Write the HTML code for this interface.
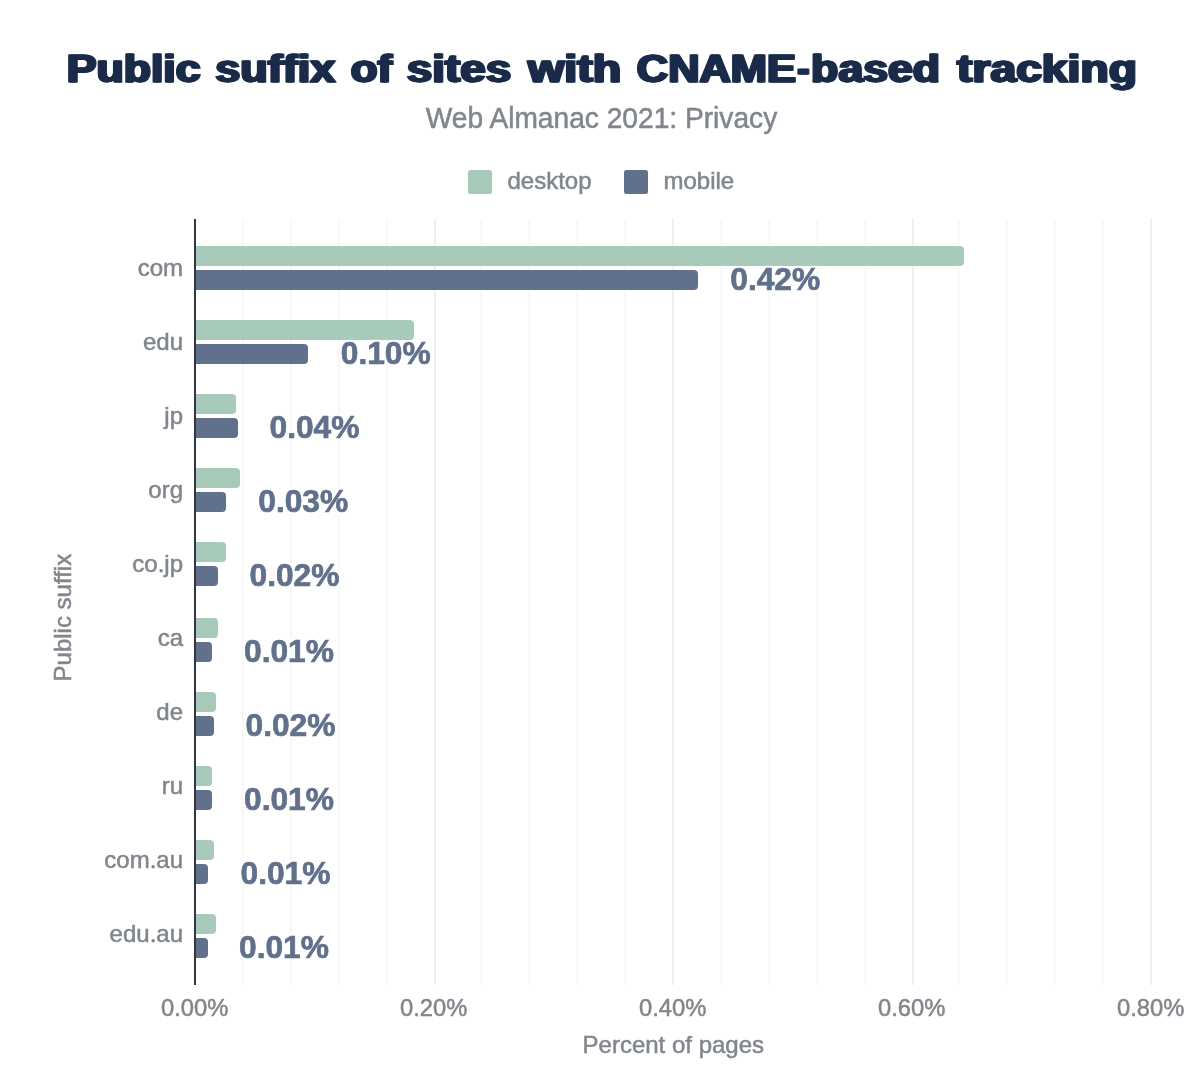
<!DOCTYPE html>
<html lang="en"><head><meta charset="utf-8"><title>Public suffix of sites with CNAME-based tracking</title>
<style>html,body{margin:0;padding:0;background:#fff}svg{display:block}text{font-family:"Liberation Sans", Arial, sans-serif}.g{fill:#81868d;stroke:#81868d;stroke-width:0.5px}</style>
</head><body>
<svg width="1200" height="1086" viewBox="0 0 1200 1086">
<rect width="1200" height="1086" fill="#fff"/>
<defs><filter id="fat" x="-2%" y="-30%" width="104%" height="160%" color-interpolation-filters="sRGB"><feOffset in="SourceGraphic" dx="0.9" result="a"/><feOffset in="SourceGraphic" dx="-0.9" result="b"/><feMerge><feMergeNode in="a"/><feMergeNode in="b"/><feMergeNode in="SourceGraphic"/></feMerge></filter></defs><text y="82.25" filter="url(#fat)" font-family="Liberation Sans, sans-serif" font-weight="bold" font-size="38.6" fill="#1a2b49" stroke="#1a2b49" stroke-width="1" stroke-linejoin="miter"><tspan x="66.67" textLength="133.93" lengthAdjust="spacingAndGlyphs">Public</tspan> <tspan x="215.30" textLength="120.08" lengthAdjust="spacingAndGlyphs">suffix</tspan> <tspan x="350.87" textLength="41.26" lengthAdjust="spacingAndGlyphs">of</tspan> <tspan x="406.87" textLength="104.43" lengthAdjust="spacingAndGlyphs">sites</tspan> <tspan x="527.93" textLength="93.35" lengthAdjust="spacingAndGlyphs">with</tspan> <tspan x="636.80" textLength="159.10" lengthAdjust="spacingAndGlyphs">CNAME</tspan><tspan x="797.59" textLength="11.87" lengthAdjust="spacingAndGlyphs">-</tspan><tspan x="811.14" textLength="128.97" lengthAdjust="spacingAndGlyphs">based</tspan> <tspan x="957.01" textLength="179.94" lengthAdjust="spacingAndGlyphs">tracking</tspan></text>
<text class="g" transform="matrix(1 0 0 1.025 601.5 128)" font-size="28.15" text-anchor="middle">Web Almanac 2021: Privacy</text>
<rect x="468" y="170" width="24" height="24" rx="2.5" fill="#a8caba"/>
<text class="g" x="507.5" y="189" font-size="24">desktop</text>
<rect x="624" y="170" width="24" height="24" rx="2.5" fill="#61708b"/>
<text class="g" x="663.5" y="189" font-size="24">mobile</text>
<rect x="242" y="219" width="2" height="766" fill="#f7f7f7"/>
<rect x="290" y="219" width="2" height="766" fill="#f7f7f7"/>
<rect x="338" y="219" width="2" height="766" fill="#f7f7f7"/>
<rect x="386" y="219" width="2" height="766" fill="#f7f7f7"/>
<rect x="434" y="219" width="2" height="766" fill="#efefef"/>
<rect x="480" y="219" width="2" height="766" fill="#f7f7f7"/>
<rect x="528" y="219" width="2" height="766" fill="#f7f7f7"/>
<rect x="576" y="219" width="2" height="766" fill="#f7f7f7"/>
<rect x="624" y="219" width="2" height="766" fill="#f7f7f7"/>
<rect x="672" y="219" width="2" height="766" fill="#efefef"/>
<rect x="720" y="219" width="2" height="766" fill="#f7f7f7"/>
<rect x="768" y="219" width="2" height="766" fill="#f7f7f7"/>
<rect x="816" y="219" width="2" height="766" fill="#f7f7f7"/>
<rect x="864" y="219" width="2" height="766" fill="#f7f7f7"/>
<rect x="912" y="219" width="2" height="766" fill="#efefef"/>
<rect x="958" y="219" width="2" height="766" fill="#f7f7f7"/>
<rect x="1006" y="219" width="2" height="766" fill="#f7f7f7"/>
<rect x="1054" y="219" width="2" height="766" fill="#f7f7f7"/>
<rect x="1102" y="219" width="2" height="766" fill="#f7f7f7"/>
<rect x="1150" y="219" width="2" height="766" fill="#efefef"/>
<path d="M195 246.00H960.00a4 4 0 0 1 4 4V262.00a4 4 0 0 1 -4 4H195Z" fill="#a8caba"/>
<path d="M195 270.00H694.00a4 4 0 0 1 4 4V286.00a4 4 0 0 1 -4 4H195Z" fill="#61708b"/>
<path d="M195 320.00H410.00a4 4 0 0 1 4 4V336.00a4 4 0 0 1 -4 4H195Z" fill="#a8caba"/>
<path d="M195 344.00H304.00a4 4 0 0 1 4 4V360.00a4 4 0 0 1 -4 4H195Z" fill="#61708b"/>
<path d="M195 394.00H232.00a4 4 0 0 1 4 4V410.00a4 4 0 0 1 -4 4H195Z" fill="#a8caba"/>
<path d="M195 418.00H234.00a4 4 0 0 1 4 4V434.00a4 4 0 0 1 -4 4H195Z" fill="#61708b"/>
<path d="M195 468.00H236.00a4 4 0 0 1 4 4V484.00a4 4 0 0 1 -4 4H195Z" fill="#a8caba"/>
<path d="M195 492.00H222.00a4 4 0 0 1 4 4V508.00a4 4 0 0 1 -4 4H195Z" fill="#61708b"/>
<path d="M195 542.00H222.00a4 4 0 0 1 4 4V558.00a4 4 0 0 1 -4 4H195Z" fill="#a8caba"/>
<path d="M195 566.00H214.00a4 4 0 0 1 4 4V582.00a4 4 0 0 1 -4 4H195Z" fill="#61708b"/>
<path d="M195 618.00H214.00a4 4 0 0 1 4 4V634.00a4 4 0 0 1 -4 4H195Z" fill="#a8caba"/>
<path d="M195 642.00H208.00a4 4 0 0 1 4 4V658.00a4 4 0 0 1 -4 4H195Z" fill="#61708b"/>
<path d="M195 692.00H212.00a4 4 0 0 1 4 4V708.00a4 4 0 0 1 -4 4H195Z" fill="#a8caba"/>
<path d="M195 716.00H210.00a4 4 0 0 1 4 4V732.00a4 4 0 0 1 -4 4H195Z" fill="#61708b"/>
<path d="M195 766.00H208.00a4 4 0 0 1 4 4V782.00a4 4 0 0 1 -4 4H195Z" fill="#a8caba"/>
<path d="M195 790.00H208.00a4 4 0 0 1 4 4V806.00a4 4 0 0 1 -4 4H195Z" fill="#61708b"/>
<path d="M195 840.00H210.00a4 4 0 0 1 4 4V856.00a4 4 0 0 1 -4 4H195Z" fill="#a8caba"/>
<path d="M195 864.00H204.00a4 4 0 0 1 4 4V880.00a4 4 0 0 1 -4 4H195Z" fill="#61708b"/>
<path d="M195 914.00H212.00a4 4 0 0 1 4 4V930.00a4 4 0 0 1 -4 4H195Z" fill="#a8caba"/>
<path d="M195 938.00H204.00a4 4 0 0 1 4 4V954.00a4 4 0 0 1 -4 4H195Z" fill="#61708b"/>
<rect x="194" y="219" width="2" height="766" fill="#323642"/>
<g class="g" font-size="24" text-anchor="end">
<text x="183" y="275.90">com</text>
<text x="183" y="349.90">edu</text>
<text x="183" y="423.90">jp</text>
<text x="183" y="497.90">org</text>
<text x="183" y="571.90">co.jp</text>
<text x="183" y="645.90">ca</text>
<text x="183" y="719.90">de</text>
<text x="183" y="793.90">ru</text>
<text x="183" y="867.90">com.au</text>
<text x="183" y="941.90">edu.au</text>
</g>
<defs><filter id="halo" x="-10%" y="-25%" width="120%" height="150%" color-interpolation-filters="sRGB"><feMorphology in="SourceAlpha" operator="dilate" radius="2" result="d"/><feGaussianBlur in="d" stdDeviation="0.6" result="bl"/><feComponentTransfer in="bl" result="s"><feFuncA type="linear" slope="3" intercept="-0.6"/></feComponentTransfer><feFlood flood-color="#fff"/><feComposite in2="s" operator="in" result="h"/><feMerge><feMergeNode in="h"/><feMergeNode in="SourceGraphic"/></feMerge></filter></defs>
<g font-size="31.75" font-weight="bold" fill="#61708b" stroke="#61708b" stroke-width="0.7" filter="url(#halo)">
<text transform="matrix(1 0 0 1.01 730.25 289.70)">0.42%</text>
<text transform="matrix(1 0 0 1.01 340.75 363.70)">0.10%</text>
<text transform="matrix(1 0 0 1.01 269.50 437.70)">0.04%</text>
<text transform="matrix(1 0 0 1.01 258.25 511.70)">0.03%</text>
<text transform="matrix(1 0 0 1.01 249.50 585.70)">0.02%</text>
<text transform="matrix(1 0 0 1.01 244.00 661.70)">0.01%</text>
<text transform="matrix(1 0 0 1.01 245.50 735.70)">0.02%</text>
<text transform="matrix(1 0 0 1.01 244.00 809.70)">0.01%</text>
<text transform="matrix(1 0 0 1.01 240.50 883.70)">0.01%</text>
<text transform="matrix(1 0 0 1.01 239.00 957.70)">0.01%</text>
</g>
<g class="g" font-size="23.75" text-anchor="middle">
<text transform="matrix(1 0 0 1 194.7 1016.3)">0.00%</text>
<text transform="matrix(1 0 0 1 433.7 1016.3)">0.20%</text>
<text transform="matrix(1 0 0 1 672.7 1016.3)">0.40%</text>
<text transform="matrix(1 0 0 1 911.7 1016.3)">0.60%</text>
<text transform="matrix(1 0 0 1 1150.7 1016.3)">0.80%</text>
</g>
<text class="g" x="673.3" y="1053" font-size="24" text-anchor="middle">Percent of pages</text>
<text class="g" transform="translate(71 617.6) rotate(-90)" font-size="24" text-anchor="middle">Public suffix</text>
</svg>
</body></html>
